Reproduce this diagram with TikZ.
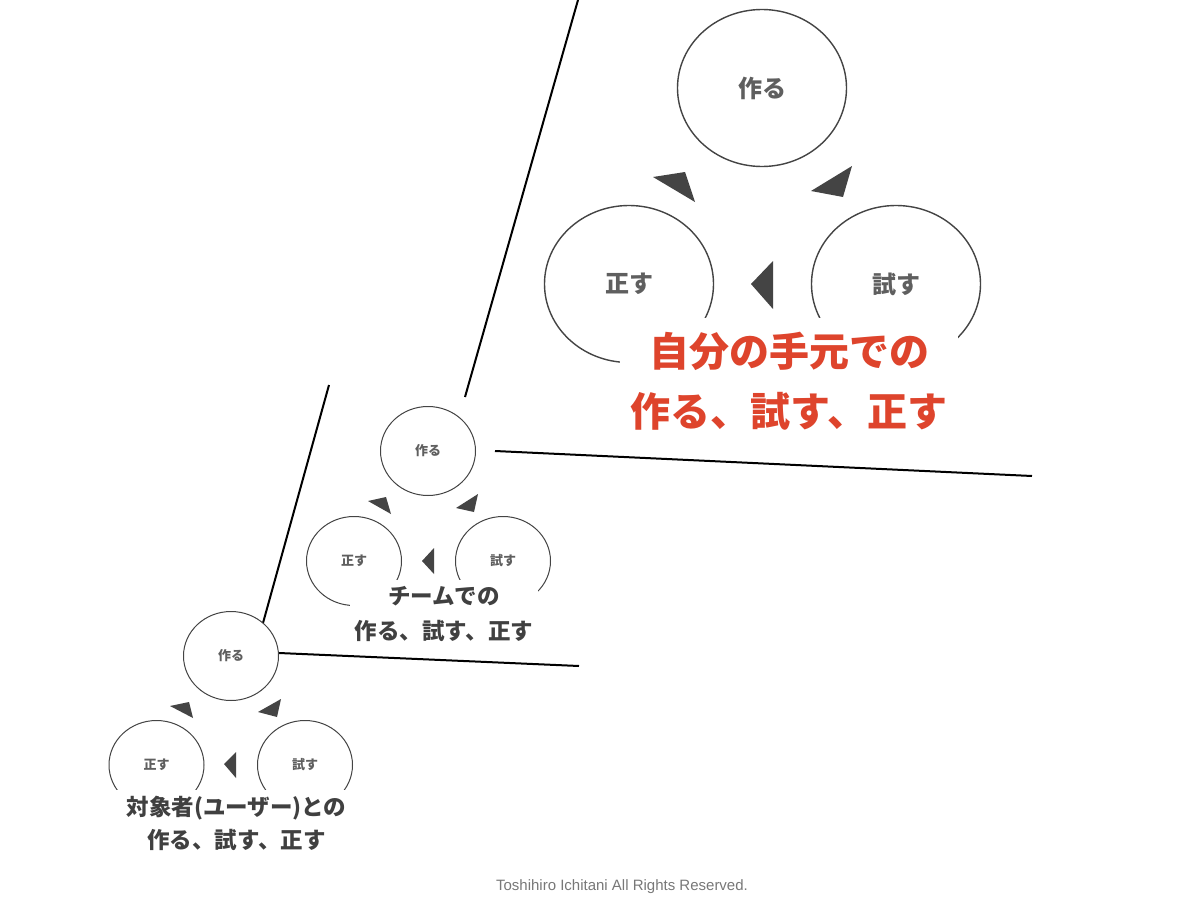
\documentclass[tikz,border=0pt]{standalone}
\usepackage{fontspec}
\setmainfont{Liberation Sans}
\newfontfamily\jp{Noto Sans CJK JP}
\usetikzlibrary{shapes.geometric}
\definecolor{ink}{RGB}{68,68,68}
\definecolor{txt}{RGB}{95,95,95}
\definecolor{lbl}{RGB}{64,64,64}
\definecolor{accent}{RGB}{222,68,44}
\definecolor{foot}{RGB}{120,120,120}
\tikzset{
  bigcirc/.style={ellipse, draw=ink, line width=1.4pt, minimum width=169pt, minimum height=157pt, inner sep=0pt, text=txt, font=\jp\bfseries\fontsize{24}{24}\selectfont},
  smallcirc/.style={ellipse, draw=ink, line width=1pt, minimum width=95pt, minimum height=89pt, inner sep=0pt, text=txt, font=\jp\bfseries\fontsize{13}{13}\selectfont},
  tri/.style={fill=ink, draw=none},
  divider/.style={draw=black, line width=2pt},
  cover/.style={fill=white, inner sep=0pt, align=center},
}
\begin{document}
\begin{tikzpicture}[x=1pt,y=-1pt]
\useasboundingbox[fill=white] (0,0) rectangle (1200,899);

% dividing lines
\coordinate (a1) at (578,0);   \coordinate (a2) at (465,397);
\coordinate (b1) at (495,451); \coordinate (b2) at (1032,476);
\coordinate (c1) at (329,385); \coordinate (c2) at (263,623);
\coordinate (d1) at (279,653); \coordinate (d2) at (579,666);
\draw[divider] (a1) -- (a2);
\draw[divider] (b1) -- (b2);
\draw[divider] (c1) -- (c2);
\draw[divider] (d1) -- (d2);

% top cycle
\node[bigcirc] (tmake) at (762,88) {作る};
\node[bigcirc] (tfix) at (629,284) {正す};
\node[bigcirc] (ttry) at (896,284) {試す};
\fill[tri] (653,177) -- (685,172) -- (695,202) -- cycle;
\fill[tri] (811,191) -- (852,166) -- (843,197) -- cycle;
\fill[tri] (751,284) -- (773,261) -- (773,309) -- cycle;

% middle cycle
\node[smallcirc] (mmake) at (428,451) {作る};
\node[smallcirc] (mfix) at (354,561) {正す};
\node[smallcirc] (mtry) at (503,561) {試す};
\fill[tri] (368,501) -- (386,497) -- (391,514) -- cycle;
\fill[tri] (456,508) -- (478,494) -- (474,512) -- cycle;
\fill[tri] (422,561) -- (434,548) -- (434,574) -- cycle;

% bottom cycle
\node[smallcirc] (bmake) at (231,656) {作る};
\node[smallcirc] (bfix) at (156.5,765) {正す};
\node[smallcirc] (btry) at (305,765) {試す};
\fill[tri] (170,706) -- (189,702) -- (193,718) -- cycle;
\fill[tri] (258,712) -- (281,699) -- (277,717) -- cycle;
\fill[tri] (224,764) -- (236,752) -- (236,778) -- cycle;

% captions
\node[cover, minimum width=338pt, minimum height=126pt, text=accent,
      font=\jp\bfseries\fontsize{40}{60}\selectfont] (mine) at (789,381)
      {自分の手元での\\作る、試す、正す};
\node[cover, minimum width=188pt, minimum height=68pt, text=lbl,
      font=\jp\bfseries\fontsize{22.5}{35}\selectfont] (team) at (444,614)
      {チームでの\\作る、試す、正す};
\node[cover, minimum width=263pt, minimum height=66pt, text=lbl,
      font=\jp\bfseries\fontsize{22.5}{33}\selectfont] (user) at (236.5,823)
      {対象者(ユーザー)との\\作る、試す、正す};

\node[font=\fontsize{15}{15}\selectfont, text=foot] (credit) at (622,887)
      {Toshihiro Ichitani All Rights Reserved.};
\end{tikzpicture}
\end{document}
